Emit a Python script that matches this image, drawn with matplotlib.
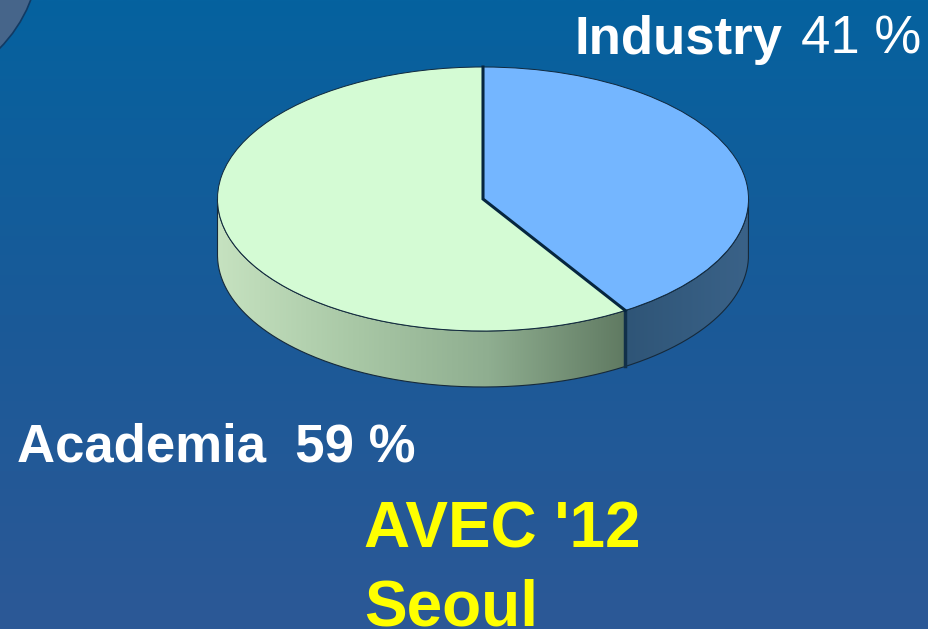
import numpy as np
import matplotlib as mpl
mpl.use("Agg")

import matplotlib.pyplot as plt
from matplotlib.colors import LinearSegmentedColormap
from matplotlib.patches import Ellipse, PathPatch
from matplotlib.path import Path

plt.rcParams['font.family'] = ['Liberation Sans', 'DejaVu Sans']

labels = ['Industry', 'Academia']
shares = [41, 59]
share_text = ['41 %', '59 %']
colors = ['#74b6ff', '#d4fbd4']
event = ['AVEC \'12', 'Seoul']

W, H = 929, 629
cx, cy = 483, 199
rx, ry = 265.5, 132
depth = 56 / ry

fig = plt.figure(figsize=(W / 100, H / 100), dpi=100)

# background gradient
bg = fig.add_axes([0, 0, 1, 1])
bg_cmap = LinearSegmentedColormap.from_list('bg', ['#05629f', '#1a5a98', '#2c5896'])
bg.imshow(np.linspace(0, 1, 256).reshape(-1, 1), cmap=bg_cmap, aspect='auto', extent=[0, W, H, 0])
bg.set_xlim(0, W)
bg.set_ylim(H, 0)
bg.axis('off')

# bit of another shape in the corner
bg.add_patch(Ellipse((-100, -50), 280, 280, fc='#46658a', ec='#123a63', lw=1.2))

# pie axes: one unit is rx wide and ry high, centre at 0,0
ax = fig.add_axes([0, 0, 1, 1], facecolor='none')
xlim = (-cx / rx, (W - cx) / rx)
ylim = ((cy - H) / ry, cy / ry)

split = np.deg2rad(90 - 360 * shares[0] / sum(shares))
split_x = np.cos(split)


def wall(a0, a1, cmap_colors, x0, x1):
    t = np.linspace(a0, a1, 200)
    xs = np.cos(t)
    ys = np.sin(t)
    verts = np.vstack([np.c_[xs, ys], np.c_[xs[::-1], ys[::-1] - depth], [[xs[0], ys[0]]]])
    patch = PathPatch(Path(verts), fc='none', ec='#16293a', lw=0.8, zorder=2)
    ax.add_patch(patch)
    cmap = LinearSegmentedColormap.from_list('w', cmap_colors)
    im = ax.imshow(np.linspace(0, 1, 256).reshape(1, -1), cmap=cmap, aspect='auto',
                   extent=[x0, x1, -1 - depth, 0.2], zorder=1)
    im.set_clip_path(patch)


wall(-np.pi, split, ['#c6e2c0', '#a9c8a6', '#8fae90', '#607a62'], -1, split_x)
wall(split, 0, ['#2f5577', '#3a6288'], split_x, 1)
ax.plot([split_x, split_x], [np.sin(split), np.sin(split) - depth], color='#12304a', lw=2.5, zorder=3)

wedges, _ = ax.pie(shares, colors=colors, startangle=90, counterclock=False, radius=1,
                   wedgeprops={'edgecolor': '#10283c', 'linewidth': 0.7, 'zorder': 4}, frame=True)
ax.plot([0, 0, split_x], [1, 0, np.sin(split)], color='#06263f', lw=2.2, zorder=5, solid_joinstyle='miter')

ax.set_aspect('auto')
ax.set_xlim(xlim)
ax.set_ylim(ylim)
ax.axis('off')

# labels
bg.text(575, 54, labels[0], fontsize=38, fontweight='bold', color='white', va='baseline', ha='left')
bg.text(801, 54, share_text[0], fontsize=38, color='white', va='baseline', ha='left')
bg.text(17, 462, labels[1] + '  ' + share_text[1], fontsize=38, fontweight='bold', color='white', va='baseline', ha='left')
bg.text(364, 547, event[0], fontsize=46, fontweight='bold', color='#ffff00', va='baseline', ha='left')
bg.text(364, 625, event[1], fontsize=46, fontweight='bold', color='#ffff00', va='baseline', ha='left')

plt.savefig('out.png', dpi=100)
